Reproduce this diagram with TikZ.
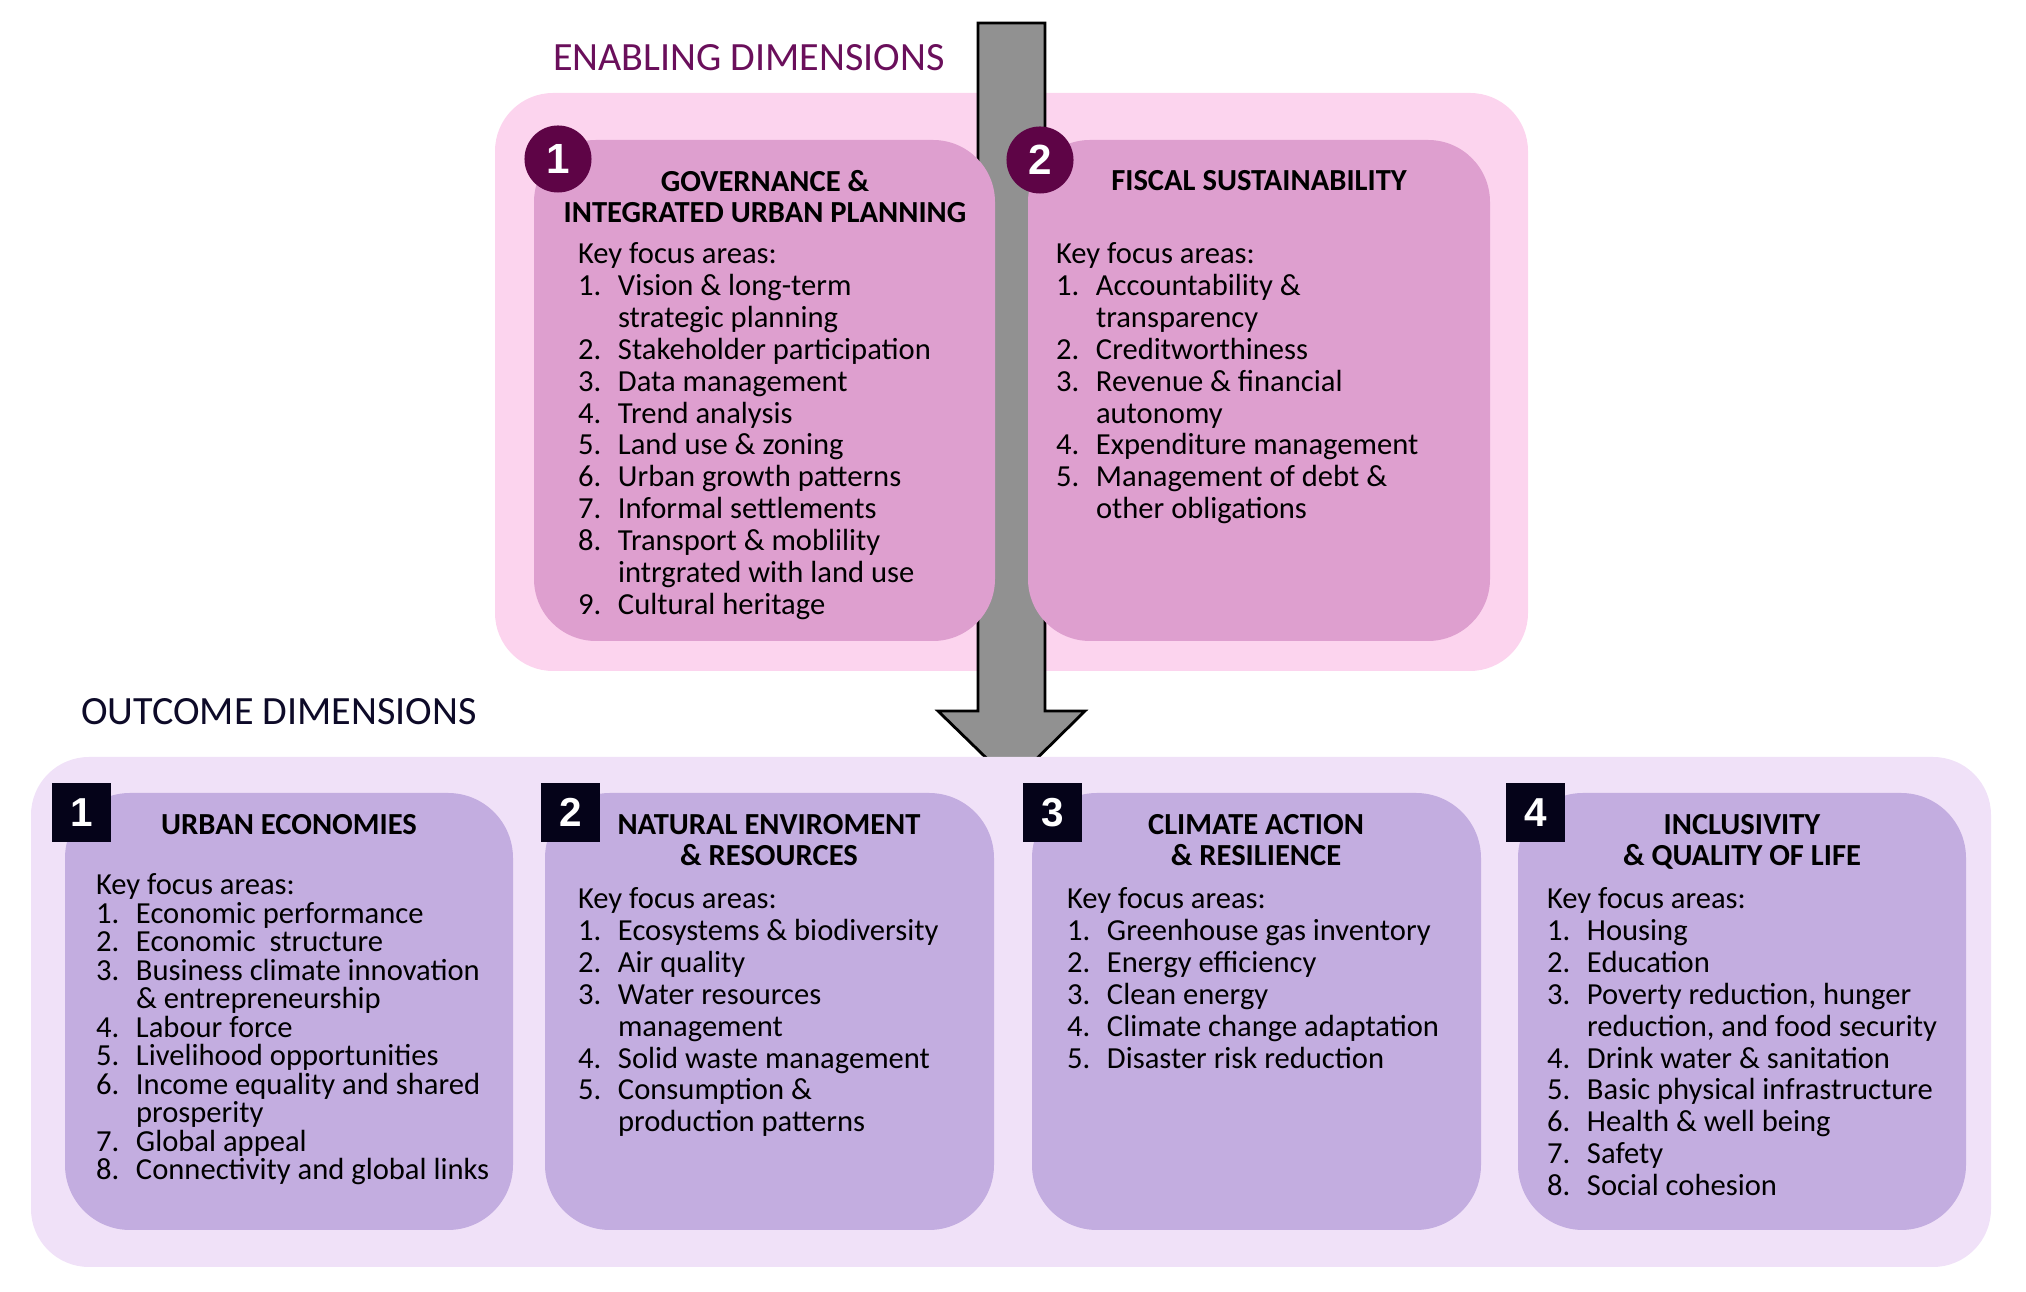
\documentclass[tikz,border=0pt]{standalone}
\usepackage{fontspec}
\setmainfont{Carlito}
\newfontfamily\numfont{Liberation Sans}
\usepackage{tikz}
\usetikzlibrary{shapes.geometric,positioning}
\definecolor{enaout}{HTML}{FCD4EE}
\definecolor{enain}{HTML}{DE9FCF}
\definecolor{enabadge}{HTML}{5E0446}
\definecolor{enatitle}{HTML}{6A0F5B}
\definecolor{outout}{HTML}{F0E1F8}
\definecolor{outin}{HTML}{C3ADE0}
\definecolor{outbadge}{HTML}{050319}
\definecolor{outtitle}{HTML}{0D0A28}
\definecolor{arrowgray}{HTML}{919191}
\newcommand\itm[2]{\makebox[0.4cm][l]{#1}#2}
\newcommand\cnt[1]{\hspace*{0.4cm}#1}
\tikzstyle{bigarrow} = [fill=arrowgray,draw=black,line width=0.8pt,line join=miter]

\begin{document}
\begin{tikzpicture}[
  x=0.01cm, y=-0.01cm,
  every node/.style={inner sep=0pt, outer sep=0pt},
  dimtitle/.style={font=\fontsize{11.4}{12}\selectfont},
  boxtitle/.style={font=\bfseries\fontsize{8.7}{9}\selectfont, align=center, anchor=north},
  focus/.style={font=\fontsize{8.7}{9.05}\selectfont, align=left, anchor=north west},
  cbadge/.style={circle, fill=enabadge, text=white, minimum size=0.67cm,
    font=\numfont\bfseries\fontsize{12}{12}\selectfont},
  sbadge/.style={rectangle, fill=outbadge, text=white, minimum size=0.59cm,
    font=\numfont\bfseries\fontsize{11.5}{12}\selectfont}
]
\useasboundingbox (0,0) rectangle (2026,1292);
% 上部
\fill[enaout, rounded corners=0.58cm] (495,93) rectangle (1528,671);
\draw[bigarrow] (978,23) -- (1045,23) -- (1045,711) -- (1085,711) -- (1012,783)
  -- (938,711) -- (978,711) -- cycle;
\fill[enain, rounded corners=0.62cm] (534,140) rectangle (995,641);
\fill[enain, rounded corners=0.62cm] (1028,140) rectangle (1490,641);
\node[dimtitle, text=enatitle] (enabling) at (749,58) {ENABLING DIMENSIONS};
\node[cbadge] (gov badge) at (558,159) {1};
\node[cbadge] (fis badge) at (1040,160) {2};
\node[boxtitle] (gov title) at (765,170) {GOVERNANCE \&\\INTEGRATED URBAN PLANNING};
\node[boxtitle] (fis title) at (1259,170) {FISCAL SUSTAINABILITY};
\node[focus] (gov list) at (578,243) {Key focus areas:\\
  \itm{1.}{Vision \& long-term}\\
  \cnt{strategic planning}\\
  \itm{2.}{Stakeholder participation}\\
  \itm{3.}{Data management}\\
  \itm{4.}{Trend analysis}\\
  \itm{5.}{Land use \& zoning}\\
  \itm{6.}{Urban growth patterns}\\
  \itm{7.}{Informal settlements}\\
  \itm{8.}{Transport \& moblility}\\
  \cnt{intrgrated with land use}\\
  \itm{9.}{Cultural heritage}};
\node[focus] (fis list) at (1056,243) {Key focus areas:\\
  \itm{1.}{Accountability \&}\\
  \cnt{transparency}\\
  \itm{2.}{Creditworthiness}\\
  \itm{3.}{Revenue \& financial}\\
  \cnt{autonomy}\\
  \itm{4.}{Expenditure management}\\
  \itm{5.}{Management of debt \&}\\
  \cnt{other obligations}};
% 下部
\fill[outout, rounded corners=0.58cm] (31,757) rectangle (1991,1267);
\foreach \xa/\xb in {65/513, 545/994, 1032/1481, 1518/1966}
  \fill[outin, rounded corners=0.65cm] (\xa,793) rectangle (\xb,1230);
\node[dimtitle, text=outtitle] (outcome) at (279,712) {OUTCOME DIMENSIONS};
\node[sbadge] (eco badge) at (81.5,812.5) {1};
\node[sbadge] (env badge) at (570.5,812.5) {2};
\node[sbadge] (cli badge) at (1052.5,812.5) {3};
\node[sbadge] (inc badge) at (1535.5,812.5) {4};
\node[boxtitle] (eco title) at (289,814) {URBAN ECONOMIES};
\node[boxtitle] (env title) at (769,814) {NATURAL ENVIROMENT\\\& RESOURCES};
\node[boxtitle] (cli title) at (1256,814) {CLIMATE ACTION\\\& RESILIENCE};
\node[boxtitle] (inc title) at (1742,814) {INCLUSIVITY\\\& QUALITY OF LIFE};
\node[focus, font=\fontsize{8.7}{8.1}\selectfont] (eco list) at (96,874) {Key focus areas:\\
  \itm{1.}{Economic performance}\\
  \itm{2.}{Economic\ \ structure}\\
  \itm{3.}{Business climate innovation}\\
  \cnt{\& entrepreneurship}\\
  \itm{4.}{Labour force}\\
  \itm{5.}{Livelihood opportunities}\\
  \itm{6.}{Income equality and shared}\\
  \cnt{prosperity}\\
  \itm{7.}{Global appeal}\\
  \itm{8.}{Connectivity and global links}};
\node[focus] (env list) at (578,888) {Key focus areas:\\
  \itm{1.}{Ecosystems \& biodiversity}\\
  \itm{2.}{Air quality}\\
  \itm{3.}{Water resources}\\
  \cnt{management}\\
  \itm{4.}{Solid waste management}\\
  \itm{5.}{Consumption \&}\\
  \cnt{production patterns}};
\node[focus] (cli list) at (1067,888) {Key focus areas:\\
  \itm{1.}{Greenhouse gas inventory}\\
  \itm{2.}{Energy efficiency}\\
  \itm{3.}{Clean energy}\\
  \itm{4.}{Climate change adaptation}\\
  \itm{5.}{Disaster risk reduction}};
\node[focus] (inc list) at (1547,888) {Key focus areas:\\
  \itm{1.}{Housing}\\
  \itm{2.}{Education}\\
  \itm{3.}{Poverty reduction, hunger}\\
  \cnt{reduction, and food security}\\
  \itm{4.}{Drink water \& sanitation}\\
  \itm{5.}{Basic physical infrastructure}\\
  \itm{6.}{Health \& well being}\\
  \itm{7.}{Safety}\\
  \itm{8.}{Social cohesion}};
\end{tikzpicture}
\end{document}
